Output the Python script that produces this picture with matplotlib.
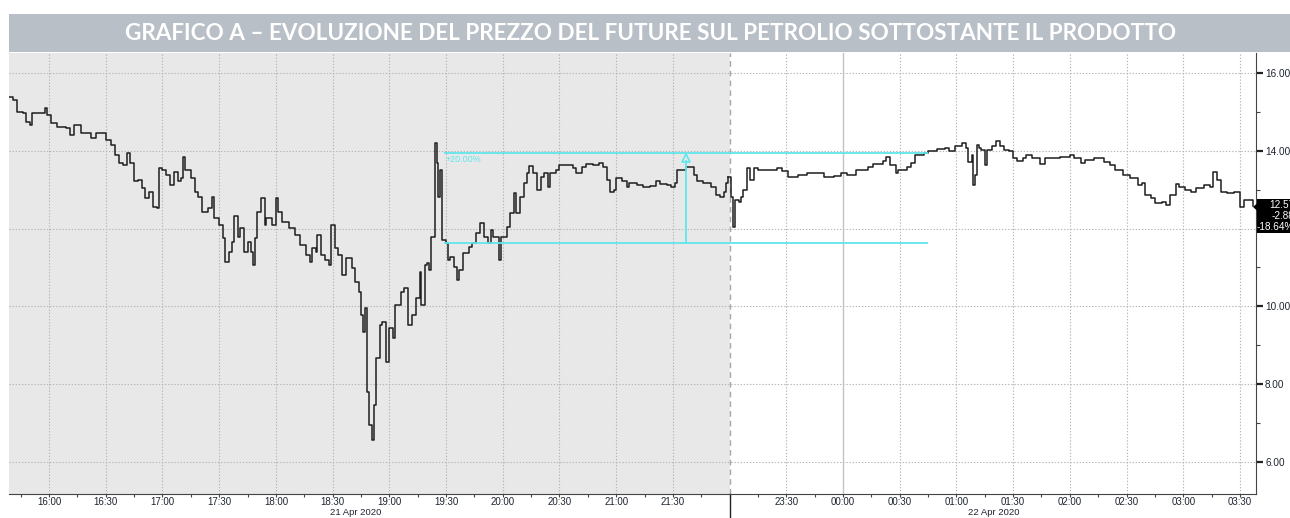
import matplotlib
matplotlib.use("Agg")
import matplotlib.pyplot as plt
from matplotlib.patches import Rectangle, Polygon
from matplotlib.ticker import FixedLocator, MultipleLocator, FuncFormatter

TITLE = "GRAFICO A – EVOLUZIONE DEL PREZZO DEL FUTURE SUL PETROLIO SOTTOSTANTE IL PRODOTTO"

# ── Session 1: 21 Apr, until the 22:00 break ─────────────────────
s1_time = ["15:39", "15:41", "15:43", "15:46", "15:48", "15:50", "15:51", "15:55", "15:58", "15:59",
           "16:01", "16:04", "16:09", "16:11", "16:13", "16:16", "16:17", "16:22", "16:25", "16:30",
           "16:33", "16:35", "16:37", "16:39", "16:41", "16:43", "16:45", "16:47", "16:49", "16:51",
           "16:53", "16:55", "16:57", "16:58", "17:00", "17:02", "17:04", "17:06", "17:08", "17:10",
           "17:11", "17:12", "17:15", "17:17", "17:19", "17:21", "17:24", "17:26", "17:27", "17:30",
           "17:32", "17:33", "17:35", "17:37", "17:38", "17:40", "17:41", "17:43", "17:45", "17:47",
           "17:48", "17:49", "17:50", "17:52", "17:54", "17:55", "17:58", "18:00", "18:01", "18:03",
           "18:07", "18:10", "18:13", "18:16", "18:18", "18:19", "18:21", "18:22", "18:24", "18:26",
           "18:28", "18:29", "18:31", "18:33", "18:35", "18:37", "18:40", "18:42", "18:44", "18:45",
           "18:46", "18:47", "18:48", "18:49", "18:51", "18:52", "18:53", "18:55", "18:56", "18:58",
           "19:00", "19:02", "19:03", "19:06", "19:08", "19:10", "19:12", "19:14", "19:16", "19:17",
           "19:19", "19:20", "19:21", "19:22", "19:24", "19:25", "19:26", "19:27", "19:28", "19:30",
           "19:31", "19:32", "19:34", "19:36", "19:37", "19:39", "19:42", "19:44", "19:46", "19:48",
           "19:50", "19:52", "19:54", "19:55", "19:58", "19:59", "20:02", "20:04", "20:06", "20:07",
           "20:09", "20:11", "20:13", "20:14", "20:16", "20:18", "20:20", "20:22", "20:24", "20:25",
           "20:28", "20:30", "20:34", "20:37", "20:39", "20:42", "20:44", "20:48", "20:51", "20:53",
           "20:55", "20:57", "20:59", "21:00", "21:03", "21:06", "21:07", "21:11", "21:14", "21:18",
           "21:21", "21:23", "21:27", "21:29", "21:31", "21:32", "21:35", "21:37", "21:39", "21:41",
           "21:43", "21:46", "21:50", "21:53", "21:55", "21:57", "21:58", "21:59"]
s1_price = [15.37, 15.31, 15.00, 14.97, 14.75, 14.66, 14.97, 14.97, 15.10, 14.92,
            14.71, 14.62, 14.59, 14.41, 14.66, 14.65, 14.46, 14.33, 14.46, 14.28,
            14.15, 13.89, 13.69, 13.64, 13.94, 13.69, 13.21, 13.25, 13.04, 12.79,
            12.95, 12.56, 12.54, 13.56, 13.51, 13.38, 13.12, 13.46, 13.21, 13.30,
            13.85, 13.51, 13.30, 12.95, 12.82, 12.43, 12.53, 12.82, 12.27, 12.09,
            11.76, 11.15, 11.41, 11.66, 12.31, 11.79, 12.02, 11.41, 11.66, 11.41,
            11.06, 11.76, 12.43, 12.79, 12.09, 12.27, 12.09, 12.79, 12.43, 12.18,
            12.02, 11.84, 11.58, 11.32, 11.15, 11.49, 11.41, 11.84, 11.32, 11.19,
            11.06, 12.09, 11.49, 11.32, 10.81, 11.24, 10.98, 10.63, 10.38, 9.78,
            9.35, 9.96, 7.81, 6.95, 6.57, 7.47, 8.67, 9.52, 9.59, 8.58,
            9.44, 9.18, 10.04, 10.38, 10.46, 9.52, 9.78, 10.21, 10.89, 10.04,
            11.06, 11.11, 10.94, 11.79, 14.19, 13.68, 12.82, 13.51, 11.71, 11.62,
            11.19, 11.28, 11.02, 10.68, 10.94, 11.36, 11.53, 11.62, 11.88, 12.14,
            11.79, 11.62, 11.96, 11.79, 11.19, 11.79, 12.05, 12.39, 12.91, 12.39,
            12.82, 13.16, 13.42, 13.61, 13.42, 12.99, 13.33, 13.42, 13.08, 13.42,
            13.51, 13.63, 13.63, 13.55, 13.42, 13.59, 13.66, 13.63, 13.68, 13.59,
            13.25, 12.95, 12.99, 13.29, 13.21, 13.08, 13.16, 13.12, 13.06, 13.09,
            13.21, 13.15, 13.12, 13.06, 13.16, 13.51, 13.51, 13.58, 13.58, 13.38,
            13.21, 13.16, 13.06, 12.86, 12.82, 12.95, 13.16, 13.33]

# ── Session 2: 21 Apr 23:00 to 22 Apr morning ─────────────────────
s2_time = ["23:01", "23:02", "23:03", "23:05", "23:06", "23:07", "23:09", "23:11", "23:13", "23:15",
           "23:20", "23:25", "23:28", "23:31", "23:36", "23:41", "23:46", "23:50", "23:55", "23:59",
           "00:02", "00:07", "00:13", "00:16", "00:21", "00:23", "00:25", "00:28", "00:29", "00:34",
           "00:36", "00:38", "00:43", "00:45", "00:50", "00:54", "00:56", "00:59", "01:03", "01:05",
           "01:06", "01:08", "01:09", "01:10", "01:11", "01:12", "01:13", "01:15", "01:16", "01:19",
           "01:21", "01:23", "01:25", "01:28", "01:30", "01:32", "01:35", "01:37", "01:40", "01:44",
           "01:47", "01:50", "01:55", "02:00", "02:02", "02:06", "02:08", "02:13", "02:18", "02:21",
           "02:24", "02:28", "02:32", "02:36", "02:38", "02:40", "02:43", "02:45", "02:49", "02:51",
           "02:53", "02:56", "02:58", "03:01", "03:04", "03:07", "03:11", "03:14", "03:16", "03:18",
           "03:20", "03:23", "03:27", "03:30", "03:32", "03:35", "03:37"]
s2_price = [12.82, 12.05, 12.74, 12.69, 12.82, 12.99, 13.55, 13.25, 13.55, 13.51,
            13.51, 13.55, 13.49, 13.33, 13.38, 13.42, 13.42, 13.33, 13.35, 13.42,
            13.38, 13.51, 13.59, 13.65, 13.74, 13.85, 13.63, 13.42, 13.51, 13.59,
            13.68, 13.89, 13.94, 13.99, 14.05, 14.06, 13.99, 14.13, 14.19, 14.06,
            13.72, 13.89, 13.12, 13.38, 14.15, 14.06, 14.02, 13.63, 14.02, 14.11,
            14.24, 14.11, 14.02, 13.98, 13.81, 13.74, 13.81, 13.89, 13.81, 13.65,
            13.81, 13.81, 13.85, 13.89, 13.81, 13.68, 13.76, 13.81, 13.70, 13.63,
            13.51, 13.38, 13.29, 13.12, 13.16, 12.86, 12.78, 12.65, 12.69, 12.61,
            12.86, 13.14, 13.08, 12.99, 12.95, 13.04, 13.12, 13.08, 13.46, 13.25,
            12.95, 12.91, 12.95, 12.56, 12.73, 12.73, 12.57]

tick_labels = ["16:00", "16:30", "17:00", "17:30", "18:00", "18:30", "19:00", "19:30",
               "20:00", "20:30", "21:00", "21:30", "23:30", "00:00", "00:30", "01:00",
               "01:30", "02:00", "02:30", "03:00", "03:30"]
date_labels = ["21 Apr 2020", "22 Apr 2020"]

# +20% measurement drawn on the chart
BASE_LEVEL = 11.62
PCT_MOVE = 20.0
MEASURE_FROM, MEASURE_TO, MEASURE_AT = "19:29", "00:45", "21:37"
LAST_BOX = ["12.57", "-2.88", "-18.64%"]

BREAK_START = 22 * 60   # market closed 22:00 - 23:00
BREAK_LEN = 60


def pos(hhmm):
    """clock time -> minutes after 15:00 on 21 Apr, with the 1h break removed"""
    h, m = map(int, hhmm.split(":"))
    mins = h * 60 + m
    if h < 15:
        mins += 1440
    if mins >= BREAK_START + BREAK_LEN:
        mins -= BREAK_LEN
    return mins - 15 * 60


x1 = [pos(t) for t in s1_time]
x2 = [pos(t) for t in s2_time]
x_break = BREAK_START - 15 * 60

GRID = "#b5b5b5"
CYAN = "#5fe6ec"
TXT = "#1f2430"
small_font = ["Liberation Sans Narrow", "Liberation Sans", "DejaVu Sans"]

fig = plt.figure(figsize=(12.9, 5.18), dpi=100)
fig.patch.set_facecolor("white")

# title bar
fig.add_artist(Rectangle((9 / 1290, 1 - 52 / 518), 1 - 9 / 1290, 38 / 518,
                         transform=fig.transFigure, facecolor="#b9bfc7", edgecolor="none"))
fig.text(0.5045, 1 - 33 / 518, TITLE, color="white", fontsize=16.2, fontweight="bold",
         family=["Lato", "DejaVu Sans"], ha="center", va="center")

ax = fig.add_axes([9 / 1290, 24 / 518, 1247 / 1290, 441 / 518])
ax.set_xlim(38.8, 698.5)
ax.set_ylim(5.18, 16.51)
ax.axvspan(38.8, x_break, color="#e8e8e8", zorder=0, lw=0)

# grid
for yv in range(6, 17, 2):
    ax.axhline(yv, color=GRID, ls=(0, (1.2, 1.6)), lw=0.8, zorder=1)
for lab in tick_labels:
    xv = pos(lab)
    if lab == "00:00":
        ax.axvline(xv, color="#c2c2c2", lw=1.0, zorder=1)
    else:
        ax.axvline(xv, color=GRID, ls=(0, (1.2, 1.6)), lw=0.8, zorder=1)
ax.axvline(x_break, color="#a8a8a8", ls=(0, (4, 3)), lw=1.0, zorder=1)
ax.plot([x_break, x_break], [0, -24 / 441], color="#222222", lw=1.0,
        transform=ax.get_xaxis_transform(), clip_on=False)

# price
ax.step(x1, s1_price, where="post", color="#1e1e1e", lw=1.1, zorder=3)
ax.step([x1[-1]] + x2, [s1_price[-1]] + s2_price, where="post", color="#1e1e1e", lw=1.1, zorder=3)

# +20% measurement
top_level = BASE_LEVEL * (1 + PCT_MOVE / 100)
ax.hlines([BASE_LEVEL, top_level], pos(MEASURE_FROM), pos(MEASURE_TO), color=CYAN, lw=1.3, zorder=4)
xa = pos(MEASURE_AT)
ax.plot([xa, xa], [BASE_LEVEL, top_level - 0.2], color=CYAN, lw=1.3, zorder=4)
ax.plot([xa], [top_level - 0.13], marker="^", ms=6, mfc="none", mec=CYAN, mew=1.2, zorder=4)
ax.text(pos(MEASURE_FROM) + 0.8, top_level - 0.05, f"+{PCT_MOVE:.2f}%", color=CYAN,
        fontsize=6.5, family=small_font, ha="left", va="top", zorder=4)

# axes styling
for s in ["left", "top"]:
    ax.spines[s].set_visible(False)
ax.spines["right"].set_color("#444444")
ax.spines["bottom"].set_color("#444444")
ax.yaxis.tick_right()
ax.yaxis.set_major_locator(MultipleLocator(2))
ax.yaxis.set_minor_locator(MultipleLocator(1))
# the 12.00 label sits under the last-value box
ax.yaxis.set_major_formatter(FuncFormatter(lambda v, _: "" if abs(v - 12) < 1e-6 else f"{v:.2f}"))
ax.tick_params(axis="y", which="major", length=5, width=1.6, color="#222222",
               labelsize=7.2, labelcolor=TXT, pad=1.5)
ax.tick_params(axis="y", which="minor", length=3, width=0.8, color="#444444")
ax.xaxis.set_major_locator(FixedLocator([pos(t) for t in tick_labels]))
ax.set_xticklabels(tick_labels)
ax.xaxis.set_minor_locator(FixedLocator(list(range(45, 699, 15))))
ax.tick_params(axis="x", which="both", length=2, width=0.8, color="#444444",
               labelsize=7.0, labelcolor=TXT, pad=0.3)
for lab in ax.get_xticklabels() + ax.get_yticklabels():
    lab.set_family(small_font)

for xd, txt in zip([222.4, 559.5], date_labels):
    ax.text(xd, -18.5 / 441, txt, transform=ax.get_xaxis_transform(),
            ha="center", va="center", fontsize=6.8, color=TXT, family=small_font)

# last value box
box_top, box_bot = 1 - 199 / 518, 1 - 233 / 518
fig.add_artist(Rectangle((1257 / 1290, box_bot), 40 / 1290, box_top - box_bot,
                         transform=fig.transFigure, facecolor="black", edgecolor="none"))
fig.add_artist(Polygon([[1253 / 1290, 1 - 207 / 518], [1257.5 / 1290, 1 - 203 / 518],
                        [1257.5 / 1290, 1 - 211 / 518]], closed=True,
                       transform=fig.transFigure, facecolor="black", edgecolor="none"))
for i, s in enumerate(LAST_BOX):
    fig.text(1294 / 1290, 1 - (205 + 11 * i) / 518, s, color="white", fontsize=7.2,
             family=small_font, ha="right", va="center")

fig.savefig("out.png", dpi=100)
